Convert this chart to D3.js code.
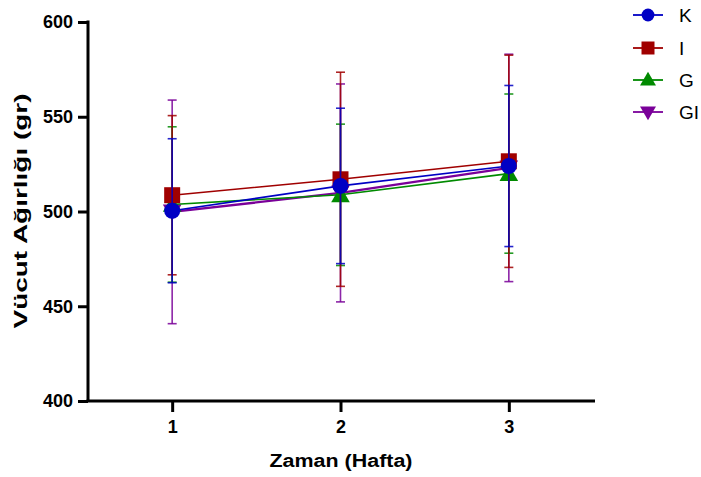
<!DOCTYPE html>
<html><head><meta charset="utf-8">
<script src="https://cdn.jsdelivr.net/npm/d3@7"></script>
<style>body{margin:0;background:#fff}text{font-family:"Liberation Sans",Arial,sans-serif}</style>
</head><body><svg id="c" width="701" height="477"></svg>
<script>
const weeks = [1, 2, 3];
const seriesNames = ["K", "I", "G", "GI"];
const kMean = [500.4, 513.5, 524];
const kErr = [38, 41, 42.5];
const iMean = [508.6, 517, 526.5];
const iErr = [42, 56.5, 56];
const gMean = [503.7, 508.8, 520];
const gErr = [41, 37.3, 42];
const giMean = [499.8, 509.8, 523];
const giErr = [59, 57.5, 60];
const yTicks = [400, 450, 500, 550, 600];
const xTicks = [1, 2, 3];

const colors = {K: "#0000c4", I: "#a00000", G: "#008a00", GI: "#7a0099"};
const symbols = {K: d3.symbolCircle, I: d3.symbolSquare, G: d3.symbolTriangle, GI: d3.symbolTriangle};
const data = {
  K: weeks.map((w, i) => ({w, m: kMean[i], e: kErr[i]})),
  I: weeks.map((w, i) => ({w, m: iMean[i], e: iErr[i]})),
  G: weeks.map((w, i) => ({w, m: gMean[i], e: gErr[i]})),
  GI: weeks.map((w, i) => ({w, m: giMean[i], e: giErr[i]}))
};

const svg = d3.select("#c");
const x = d3.scaleLinear().domain([0.5, 3.5]).range([88, 593]);
const y = d3.scaleLinear().domain([400, 600]).range([401, 22]);

const order = ["GI", "G", "I", "K"];
order.forEach(s => {
  const g = svg.append("g");
  const c = colors[s];
  const dd = data[s];
  dd.forEach(d => {
    g.append("line").attr("x1", x(d.w)).attr("x2", x(d.w)).attr("y1", y(d.m - d.e)).attr("y2", y(d.m + d.e))
      .attr("stroke", c).attr("stroke-width", 1.6).attr("opacity", 0.85);
    [d.m - d.e, d.m + d.e].forEach(v => {
      g.append("line").attr("x1", x(d.w) - 4.5).attr("x2", x(d.w) + 4.5).attr("y1", y(v)).attr("y2", y(v))
        .attr("stroke", c).attr("stroke-width", 1.6).attr("opacity", 0.85);
    });
  });
  g.append("path").datum(dd)
    .attr("d", d3.line().x(d => x(d.w)).y(d => y(d.m)))
    .attr("fill", "none").attr("stroke", c).attr("stroke-width", s === "GI" ? 2.4 : 1.6);
  const size = s === "K" ? Math.PI * 8 * 8 : (s === "I" ? 16 * 16 : 150);
  g.selectAll("path.m").data(dd).enter().append("path").attr("class", "m")
    .attr("d", d3.symbol().type(symbols[s]).size(size))
    .attr("transform", d => `translate(${x(d.w)},${y(d.m) + (s === "G" ? 2 : (s === "GI" ? -2 : 0))})` + (s === "GI" ? " rotate(180)" : ""))
    .attr("fill", c);
});

const yAxis = d3.axisLeft(y).tickValues(yTicks).tickSize(10).tickPadding(5);
const xAxis = d3.axisBottom(x).tickValues(xTicks).tickSize(11).tickPadding(8).tickFormat(d3.format("d"));
const ya = svg.append("g").attr("transform", "translate(88,0)").call(yAxis);
const xa = svg.append("g").attr("transform", "translate(0,401)").call(xAxis);
[ya, xa].forEach(a => {
  a.select(".domain").attr("stroke", "#000").attr("stroke-width", 3);
  a.selectAll(".tick line").attr("stroke", "#000").attr("stroke-width", 3);
  a.selectAll(".tick text").attr("fill", "#000").attr("font-size", 18).attr("font-weight", "bold")
    .style("font-family", "'Liberation Sans', Arial, sans-serif");
});
ya.select(".domain").attr("d", "M0,20.5V401");
xa.select(".domain").attr("d", "M86.5,0H595");

svg.append("text").attr("x", 341).attr("y", 467).attr("text-anchor", "middle")
  .attr("font-size", 18).attr("font-weight", "bold").attr("textLength", 143).attr("lengthAdjust", "spacingAndGlyphs")
  .text("Zaman (Hafta)");
svg.append("text").attr("transform", "translate(27,211) rotate(-90)").attr("text-anchor", "middle")
  .attr("font-size", 18).attr("font-weight", "bold").attr("textLength", 235).attr("lengthAdjust", "spacingAndGlyphs")
  .text("Vücut Ağırlığı (gr)");

const legY = [15, 48, 80, 112];
seriesNames.forEach((s, i) => {
  const g = svg.append("g").attr("transform", `translate(648,${legY[i]})`);
  g.append("line").attr("x1", -15).attr("x2", 15).attr("stroke", colors[s]).attr("stroke-width", 1.8);
  const size = s === "K" ? Math.PI * 6.4 * 6.4 : (s === "I" ? 13 * 13 : 110);
  g.append("path").attr("d", d3.symbol().type(symbols[s]).size(size)())
    .attr("transform", s === "GI" ? "translate(0,-1) rotate(180)" : (s === "G" ? "translate(0,1)" : null))
    .attr("fill", colors[s]);
  g.append("text").attr("x", 31).attr("y", 7).attr("font-size", 19).attr("fill", "#000").text(s);
});
</script></body></html>
